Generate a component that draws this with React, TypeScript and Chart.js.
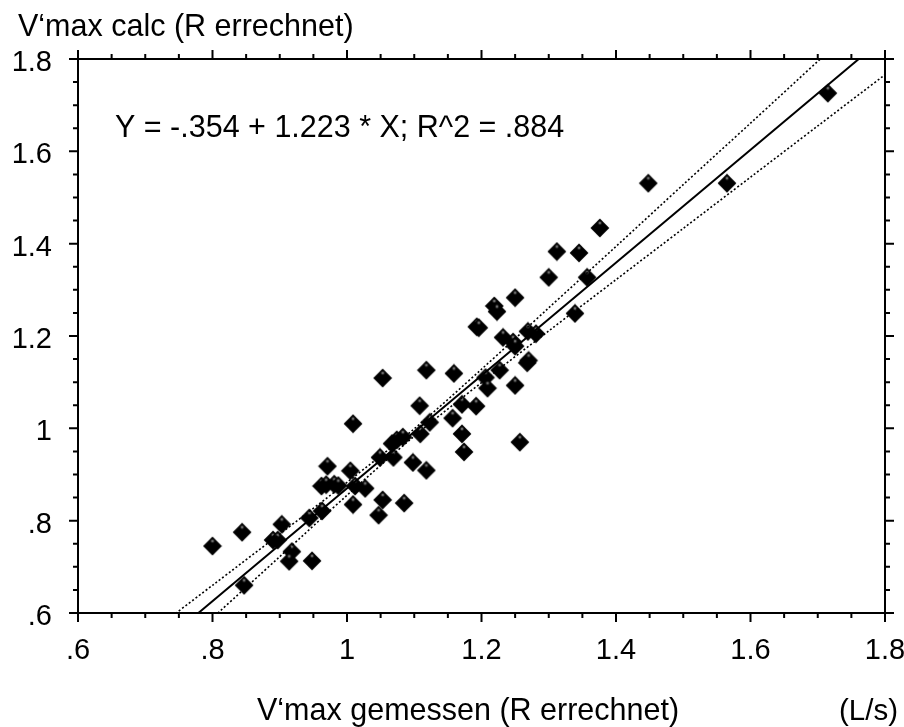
import React, { useEffect, useRef } from 'react';
import { Chart, registerables } from 'chart.js';

Chart.register(...registerables);

const measuredX = [0.800, 0.844, 0.847, 0.890, 0.897, 0.903, 0.918, 0.914, 0.948, 0.944, 0.963, 0.971, 0.962, 0.969, 0.981, 0.987, 1.005, 1.009, 1.012, 1.027, 1.009, 1.047, 1.053, 1.049, 1.069, 1.067, 1.074, 1.083, 1.085, 1.098, 1.118, 1.109, 1.123, 1.108, 1.053, 1.118, 1.159, 1.206, 1.227, 1.268, 1.209, 1.250, 1.171, 1.192, 1.157, 1.171, 1.174, 1.257, 1.715, 1.565, 1.448, 1.376, 1.312, 1.345, 1.300, 1.357, 1.250, 1.219, 1.223, 1.193, 1.196, 1.339, 1.232, 1.247, 1.250, 1.269, 1.281, 1.270];
const calcY = [0.745, 0.775, 0.660, 0.758, 0.758, 0.792, 0.733, 0.712, 0.713, 0.806, 0.821, 0.918, 0.875, 0.878, 0.879, 0.876, 0.908, 1.010, 0.875, 0.870, 0.835, 0.812, 0.845, 0.937, 0.937, 0.967, 0.975, 0.981, 0.838, 0.926, 0.909, 0.988, 1.013, 1.049, 1.109, 1.126, 1.119, 1.110, 1.126, 1.142, 1.087, 1.093, 1.052, 1.048, 1.022, 0.988, 0.949, 0.970, 1.726, 1.531, 1.531, 1.434, 1.383, 1.380, 1.327, 1.327, 1.283, 1.265, 1.253, 1.220, 1.218, 1.249, 1.197, 1.187, 1.178, 1.210, 1.205, 1.147];

// Regression line endpoints
const regX = [0.779, 1.761];
const regY = [0.6, 1.8];

// Confidence band (dotted) points
const upperX = [0.745, 0.8, 0.9, 1.0, 1.1, 1.2, 1.3, 1.4, 1.5, 1.6, 1.706];
const upperY = [0.599, 0.660, 0.771, 0.883, 0.999, 1.128, 1.261, 1.394, 1.528, 1.661, 1.803];
const lowerX = [0.808, 0.9, 1.0, 1.1, 1.2, 1.3, 1.4, 1.5, 1.6, 1.7, 1.8];
const lowerY = [0.600, 0.722, 0.855, 0.983, 1.099, 1.211, 1.322, 1.433, 1.544, 1.655, 1.766];

const axisMin = 0.6;
const axisMax = 1.8;
const axisStep = 0.2;
const minorStep = 0.05;

const yTitle = 'V‘max calc (R errechnet)';
const xTitle = 'V‘max gemessen (R errechnet)';
const unitLabel = '(L/s)';
const equation = 'Y = -.354 + 1.223 * X; R^2 = .884';

const FONT = '"Liberation Sans", Arial, Helvetica, sans-serif';

const fmt = (v: number) => {
  let s = (Math.round(v * 10) / 10).toString();
  if (s.startsWith('0')) s = s.slice(1);
  return s;
};

const toPts = (xs: number[], ys: number[]) => xs.map((x, i) => ({ x, y: ys[i] }));

export default function App() {
  const ref = useRef<HTMLCanvasElement | null>(null);

  useEffect(() => {
    if (!ref.current) return;

    const img = document.createElement('canvas');
    img.width = 20;
    img.height = 20;
    const c = img.getContext('2d')!;
    c.beginPath();
    c.moveTo(10, 0.6);
    c.lineTo(19.4, 10);
    c.lineTo(10, 19.4);
    c.lineTo(0.6, 10);
    c.closePath();
    c.fillStyle = '#000';
    c.fill();
    const g = c.createRadialGradient(10, 5, 0, 10, 5, 2.8);
    g.addColorStop(0, 'rgba(190,190,190,1)');
    g.addColorStop(1, 'rgba(0,0,0,0)');
    c.fillStyle = g;
    c.fillRect(6, 1, 8, 8);

    const framePlugin = {
      id: 'frame',
      afterDraw(chart: any) {
        const { ctx, chartArea: a, scales } = chart;
        const xs = scales.x;
        const ys = scales.y;
        ctx.save();
        ctx.strokeStyle = '#000';
        ctx.lineWidth = 2;
        ctx.strokeRect(a.left, a.top, a.right - a.left, a.bottom - a.top);
        const n = Math.round((axisMax - axisMin) / minorStep);
        const every = Math.round(axisStep / minorStep);
        ctx.beginPath();
        for (let i = 0; i <= n; i++) {
          const v = axisMin + i * minorStep;
          const len = i % every === 0 ? 9 : 5;
          const px = xs.getPixelForValue(v);
          const py = ys.getPixelForValue(v);
          ctx.moveTo(px, a.bottom);
          ctx.lineTo(px, a.bottom + len);
          ctx.moveTo(px, a.top);
          ctx.lineTo(px, a.top - len);
          ctx.moveTo(a.left, py);
          ctx.lineTo(a.left - len, py);
          ctx.moveTo(a.right, py);
          ctx.lineTo(a.right + len, py);
        }
        ctx.stroke();

        ctx.fillStyle = '#000';
        ctx.textBaseline = 'alphabetic';
        ctx.textAlign = 'left';
        ctx.font = `30.5px ${FONT}`;
        ctx.fillText(yTitle, 18, 36);
        ctx.fillText(equation, 115, 137);
        ctx.fillText(xTitle, 257, 720);
        ctx.font = `29.5px ${FONT}`;
        ctx.fillText(unitLabel, 839, 720);
        ctx.restore();
      },
    };

    const chart = new Chart(ref.current, {
      type: 'scatter',
      data: {
        datasets: [
          {
            data: toPts(upperX, upperY),
            showLine: true,
            borderColor: '#000',
            borderWidth: 1.6,
            borderDash: [2, 2.2],
            pointRadius: 0,
            tension: 0.3,
          },
          {
            data: toPts(lowerX, lowerY),
            showLine: true,
            borderColor: '#000',
            borderWidth: 1.6,
            borderDash: [2, 2.2],
            pointRadius: 0,
            tension: 0.3,
          },
          {
            data: toPts(regX, regY),
            showLine: true,
            borderColor: '#000',
            borderWidth: 2,
            pointRadius: 0,
          },
          {
            data: toPts(measuredX, calcY),
            showLine: false,
            pointStyle: img as any,
            pointRadius: 10,
            backgroundColor: '#000',
            borderColor: '#000',
          },
        ],
      },
      options: {
        responsive: false,
        animation: false,
        events: [],
        layout: { padding: { top: 59, right: 19, left: 0, bottom: 0 } },
        plugins: { legend: { display: false }, tooltip: { enabled: false } },
        scales: {
          x: {
            type: 'linear',
            min: axisMin,
            max: axisMax,
            grid: { display: false, drawTicks: false },
            border: { display: false },
            ticks: {
              stepSize: axisStep,
              autoSkip: false,
              maxRotation: 0,
              padding: 21,
              color: '#000',
              font: { family: FONT, size: 29 },
              callback: (v: any) => fmt(Number(v)),
            },
            afterFit: (s: any) => {
              s.height = 114;
              s.paddingLeft = 0;
              s.paddingRight = 0;
            },
          },
          y: {
            type: 'linear',
            min: axisMin,
            max: axisMax,
            grid: { display: false, drawTicks: false },
            border: { display: false },
            ticks: {
              stepSize: axisStep,
              autoSkip: false,
              padding: 26,
              labelOffset: 4,
              color: '#000',
              font: { family: FONT, size: 29 },
              callback: (v: any) => fmt(Number(v)),
            },
            afterFit: (s: any) => {
              s.width = 78;
              s.paddingTop = 0;
              s.paddingBottom = 0;
            },
          },
        },
      } as any,
      plugins: [framePlugin],
    });

    return () => chart.destroy();
  }, []);

  return (
    <div style={{ position: 'fixed', left: 0, top: 0, width: 904, height: 727, background: '#fff' }}>
      <canvas ref={ref} width={904} height={727} />
    </div>
  );
}
